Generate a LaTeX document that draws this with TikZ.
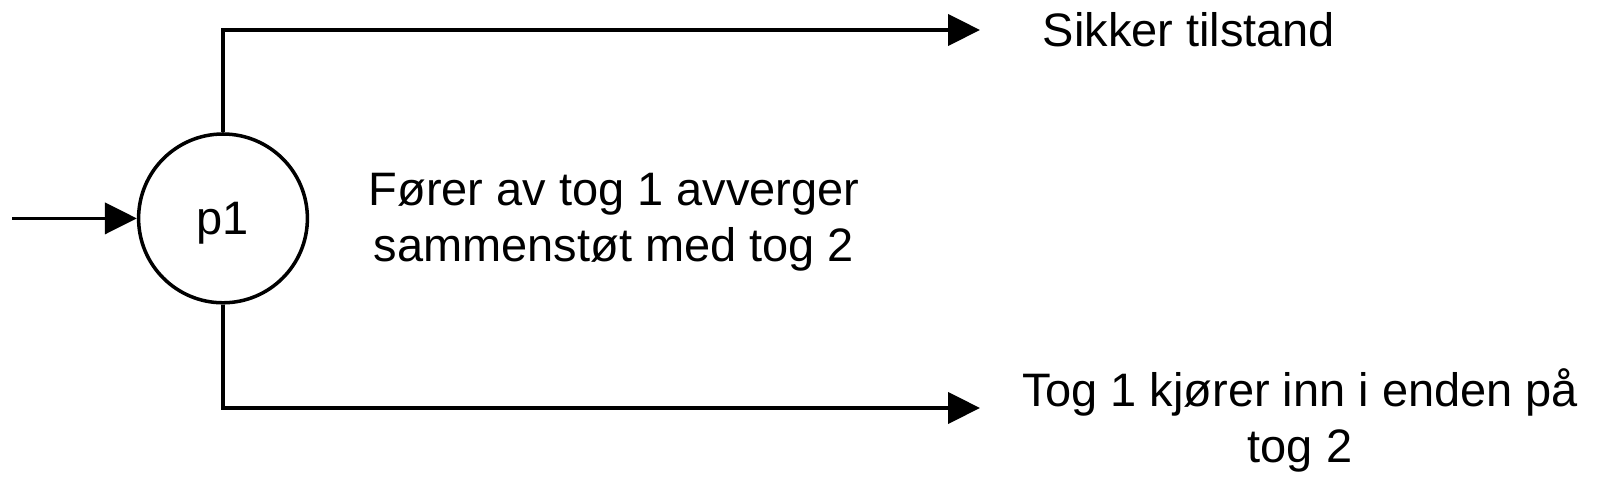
\documentclass[tikz,border=0pt]{standalone}
\usepackage{fontspec}
\setmainfont{Liberation Sans}
\usetikzlibrary{arrows.meta}

\begin{document}
\begin{tikzpicture}[line width=2.5pt,
    flow/.style={-{Triangle[length=0.8cm,width=0.78cm]}},
    label/.style={font=\fontsize{33.4pt}{40.5pt}\selectfont, align=center, anchor=base, inner sep=0pt}]
                \useasboundingbox (0,0) rectangle (40,12.3);
                \node [draw, circle, minimum size=4.22cm, inner sep=0pt, text depth=0pt,
                       font=\fontsize{33.4pt}{40.5pt}\selectfont] (p1) at (5.575,6.84) {p1};
                \coordinate (start) at (0.3,6.84);
                \coordinate (safeend) at (24.5,11.55);
                \coordinate (crashend) at (24.5,2.1);
                \draw [flow] (start) -- (p1);
                \draw [flow] (p1) |- (safeend);
                \draw [flow] (p1) |- (crashend);
                \node [label] (safe) at (29.725,11.125) {Sikker tilstand};
                \node [label] (crash) at (32.5,0.725) {Tog 1 kjører inn i enden på\\tog 2};
                \node [label] (avert) at (15.35,5.75) {Fører av tog 1 avverger\\sammenstøt med tog 2};
            \end{tikzpicture}
\end{document}
